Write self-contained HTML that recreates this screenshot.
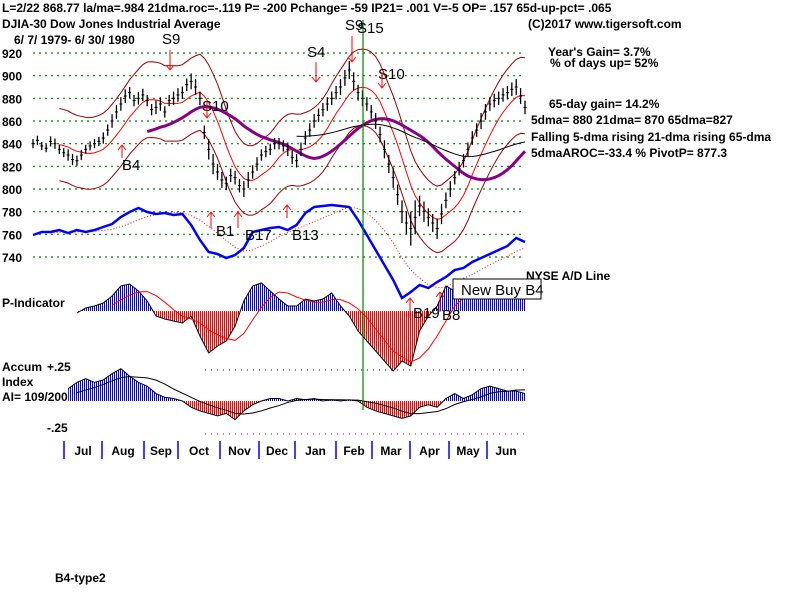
<!DOCTYPE html>
<html><head><meta charset="utf-8"><style>
body{margin:0;background:#fff;}
svg{display:block;font-family:"Liberation Sans",sans-serif;}
.t{font-size:12px;fill:#000;font-weight:bold;}
.s{font-size:15px;fill:#000;}
</style></head><body>
<svg id="c" width="800" height="600" viewBox="0 0 800 600">
<defs>
<pattern id="pb" width="2" height="4" patternUnits="userSpaceOnUse"><rect width="1" height="4" fill="#00f"/></pattern>
<pattern id="pr" width="2" height="4" patternUnits="userSpaceOnUse"><rect width="1" height="4" fill="#f00"/></pattern>
</defs>
<text class="t" x="2" y="12">L=2/22   868.77   la/ma=.984  21dma.roc=-.119  P= -200  Pchange=  -59  IP21= .001  V=-5  OP= .157  65d-up-pct= .065</text>
<text class="t" x="2" y="28">DJIA-30   Dow Jones Industrial Average</text>
<text class="t" x="528" y="28">(C)2017 www.tigersoft.com</text>
<text class="t" x="14" y="44">6/ 7/ 1979-  6/ 30/ 1980</text>
<text class="t" x="548" y="56">Year's Gain= 3.7%</text>
<text class="t" x="550" y="67">% of days up= 52%</text>
<text class="t" x="549" y="108">65-day gain= 14.2%</text>
<text class="t" x="531" y="124">5dma= 880  21dma= 870  65dma=827</text>
<text class="t" x="531" y="141">Falling 5-dma  rising 21-dma  rising 65-dma</text>
<text class="t" x="531" y="157">5dmaAROC=-33.4 %  PivotP= 877.3</text>
<text class="t" x="526" y="280">NYSE A/D Line</text>
<text class="t" x="2" y="307">P-Indicator</text>
<text class="t" x="2" y="371">Accum</text>
<text class="t" x="2" y="386">Index</text>
<text class="t" x="2" y="401">AI= 109/200</text>
<text class="t" x="47" y="371">+.25</text>
<text class="t" x="47" y="432">-.25</text>
<text class="t" x="55" y="582">B4-type2</text>
<g id="g"></g>
<rect x="453" y="279" width="88" height="20" fill="#fff" stroke="#000"/>
<text x="461" y="295" style="font-size:15px">New Buy B4</text>
</svg>
<script>
const yTicks=[920,900,880,860,840,820,800,780,760,740];
const months=["Jul","Aug","Sep","Oct","Nov","Dec","Jan","Feb","Mar","Apr","May","Jun"];
const monthX=[64,102,144,178,220,259,295,336,372,410,449,487];
const closes=[840,843,838,836,842,840,835,832,830,826,825,830,835,838,840,842,845,852,860,868,875,882,885,878,880,883,878,870,872,875,868,878,880,883,885,892,895,890,880,850,835,822,815,808,805,812,810,803,800,808,815,822,830,833,835,840,840,838,835,828,825,835,845,852,860,865,870,875,880,885,890,898,905,895,885,880,875,868,860,848,835,822,810,795,780,770,765,775,785,780,775,770,765,778,790,800,810,818,825,835,845,852,860,868,875,878,880,883,885,888,890,882,872];
const ranges=[8,7,9,8,10,9,8,8,10,12,12,10,11,10,12,10,12,11,14,12,18,14,12,12,14,12,10,10,10,12,12,12,12,12,12,14,16,14,12,14,16,18,20,30,18,16,18,14,12,12,12,14,12,12,12,14,12];
const adLine=[75,78,78,80,77,80,78,80,83,86,93,98,102,98,96,97,95,96,85,70,58,56,52,55,62,78,80,82,83,80,85,97,103,104,105,104,103,90,75,60,45,30,12,18,25,22,28,33,40,42,48,52,56,60,64,72,68];
const pInd=[0,0,0,0,0,-2,3,5,8,15,25,27,20,10,-5,-8,-10,-12,-5,-25,-42,-35,-30,-15,10,25,28,20,12,5,5,12,10,12,18,5,-5,-20,-30,-40,-50,-60,-50,-55,-20,-5,5,25,20,20,18,15,15,15,15,15,15];
const accum=[0.05,0.03,0.02,0.05,0.1,0.15,0.18,0.15,0.17,0.22,0.26,0.2,0.15,0.12,0.06,0.03,0.02,0.0,-0.05,-0.08,-0.1,-0.12,-0.1,-0.15,-0.08,-0.03,0.0,0.02,0.02,0.0,0.02,0.01,0.02,0.0,0.01,0.0,0.01,0.0,-0.05,-0.08,-0.1,-0.12,-0.14,-0.12,-0.05,-0.03,-0.05,0.02,0.06,0.02,0.05,0.1,0.12,0.1,0.08,0.08,0.06];
const signals=[["S9",162,44,170,50,70,"d"],["S10",202,111,207,100,118,"d"],["B4",122,170,122,158,145,"u"],["B1",216,236,211,228,212,"u"],["B17",245,240,238,228,212,"u"],["B13",292,240,287,218,205,"u"],["S4",307,57,316,62,82,"d"],["S9",345,30,352,36,62,"d"],["S15",357,33,0,0,0,""],["S10",378,79,382,72,88,"d"],["B19",413,318,410,318,298,"u"],["B8",442,320,440,312,292,"u"]];

const NS="http://www.w3.org/2000/svg";
const g=document.getElementById('g');
function mk(t,a,p){const e=document.createElementNS(NS,t);for(const k in a)e.setAttribute(k,a[k]);(p||g).appendChild(e);return e;}
const X0=33,X1=525,N=adLine.length,NP=closes.length;
const xs=i=>X0+i*(X1-X0)/(N-1);
const xp=i=>X0+i*(X1-X0)/(NP-1);
const py=v=>53+(920-v)*(257-53)/180;
const ady=v=>310-v;
const PB=311, py2=v=>PB-v;
const AB=401, ay=v=>AB-v*124;
function ma(a,w){return a.map((_,i)=>{let s=0,n=0;for(let j=Math.max(0,i-w+1);j<=i;j++){s+=a[j];n++;}return s/n;});}
function pts(arr,fx,fy,start){return arr.map((v,i)=>i<(start||0)?null:fx(i)+','+fy(v)).filter(Boolean).join(' ');}

yTicks.forEach(v=>{
 const l=mk('line',{x1:33,x2:525,y1:py(v),y2:py(v),stroke:'#080','stroke-dasharray':'2,4','stroke-width':1.2});
 
 
 const t=mk('text',{x:2,y:py(v)+5,class:'t'});t.textContent=v;
 
 
});
mk('line',{x1:205,x2:525,y1:370,y2:370,stroke:'#000','stroke-dasharray':'1,5'});
mk('line',{x1:205,x2:525,y1:434,y2:434,stroke:'#909','stroke-dasharray':'1,5'});
months.forEach((m,i)=>{
 const l=mk('line',{x1:monthX[i],x2:monthX[i],y1:441,y2:459,stroke:'#00f','stroke-width':1.5});
 
 
 const t=mk('text',{x:monthX[i]+(i<11?(monthX[i+1]-monthX[i])/2:19),y:455,class:'t','text-anchor':'middle'});t.textContent=m;
 
 
});
const m21=ma(closes,8), m65=ma(closes,26);
mk('polyline',{points:pts(m21.map(v=>v*1.038),xp,py,6),fill:'none',stroke:'#900','stroke-width':1});
mk('polyline',{points:pts(m21.map(v=>v*0.962),xp,py,6),fill:'none',stroke:'#900','stroke-width':1});
const r21=mk('polyline',{points:pts(m21,xp,py,6),fill:'none',stroke:'#f00','stroke-width':1});


const p65=mk('polyline',{points:pts(m65,xp,py,26),fill:'none',stroke:'#808','stroke-width':3});


mk('polyline',{points:pts(ma(closes,60),xp,py,60),fill:'none',stroke:'#000','stroke-width':1});
closes.forEach((c,i)=>{
 const r=ranges[Math.floor(i/2)];
 const b=mk('line',{x1:xp(i),x2:xp(i),y1:py(c+r/2),y2:py(c-r/2),stroke:'#000','stroke-width':1.3});
 
 
 mk('line',{x1:xp(i)-1.5,x2:xp(i)+1.5,y1:py(c),y2:py(c),stroke:'#000'});
});
mk('polyline',{points:pts(ma(adLine,6),xs,ady,2),fill:'none',stroke:'#f00','stroke-dasharray':'1,2'});
const ad=mk('polyline',{points:pts(adLine,xs,ady),fill:'none',stroke:'#00f','stroke-width':2.5});


function hist(arr,fy,base,name,start){
 const s=start||0;
 const poly=[xs(s)+','+base].concat(arr.slice(s).map((v,k)=>xs(k+s)+','+fy(v))).concat([xs(N-1)+','+base]).join(' ');
 const cid='c'+name;
 const cp1=mk('clipPath',{id:cid+'a'});mk('rect',{x:0,y:0,width:800,height:base},cp1);
 const cp2=mk('clipPath',{id:cid+'b'});mk('rect',{x:0,y:base,width:800,height:600},cp2);
 mk('polygon',{points:poly,fill:'url(#pb)','clip-path':'url(#'+cid+'a)'});
 mk('polygon',{points:poly,fill:'url(#pr)','clip-path':'url(#'+cid+'b)'});
 const o=mk('polyline',{points:pts(arr,xs,fy,s),fill:'none',stroke:'#000'});
 
 
}
hist(pInd,py2,PB,'p-indicator',5);
mk('polyline',{points:pts(ma(pInd,5),xs,py2,9),fill:'none',stroke:'#f00'});
hist(accum,ay,AB,'accum-index',4);
mk('polyline',{points:pts(ma(accum,6),xs,ay,5),fill:'none',stroke:'#000'});
mk('line',{x1:363,x2:363,y1:20,y2:410,stroke:'#080','stroke-width':1.2});
signals.forEach(s=>{
 const t=mk('text',{x:s[1],y:s[2],class:'s'});t.textContent=s[0];
 
 
 if(s[6]){const x=s[3];mk('line',{x1:x,x2:x,y1:s[4],y2:s[5],stroke:'#f00'});
  const ty=s[5];const d=s[6]=='d'?-5:5;
  mk('polyline',{points:(x-4)+','+(ty+d)+' '+x+','+ty+' '+(x+4)+','+(ty+d),fill:'none',stroke:'#f00'});}
});
</script>
</body></html>
